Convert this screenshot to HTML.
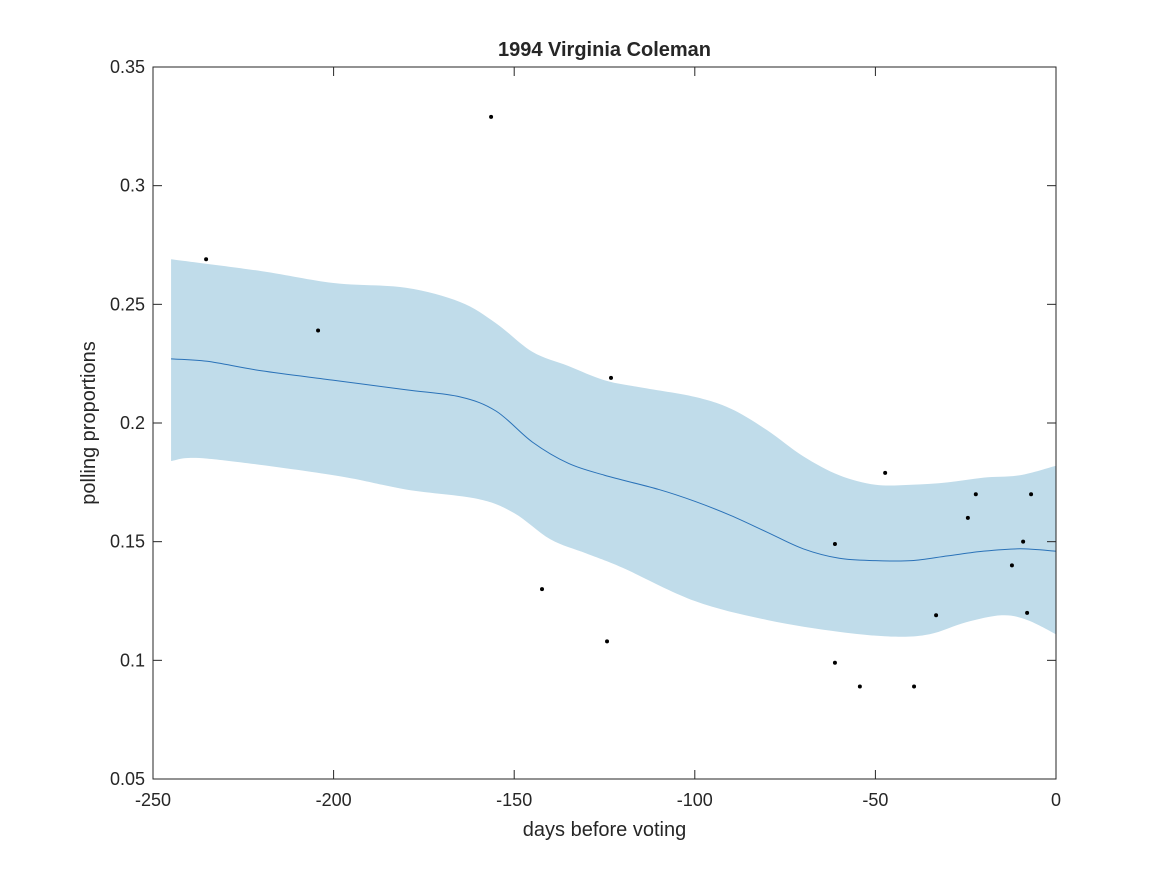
<!DOCTYPE html>
<html><head><meta charset="utf-8"><style>
body{margin:0;background:#fff;}
svg text{font-family:"Liberation Sans",Arial,sans-serif;fill:#262626;}
</style></head><body>
<svg id="chart" width="1167" height="875">
<rect width="1167" height="875" fill="#fff"/>
<g id="plot"></g>
</svg>
<script>
const xTicks=[-250,-200,-150,-100,-50,0];
const yTicks=[0.05,0.1,0.15,0.2,0.25,0.3,0.35];
const yTickLabels=["0.05","0.1","0.15","0.2","0.25","0.3","0.35"];
const meanX=[-245,-235,-220,-200,-180,-165,-155,-145,-135,-125,-110,-100,-90,-80,-70,-60,-50,-40,-30,-20,-10,0];
const meanY=[0.227,0.226,0.222,0.218,0.214,0.211,0.205,0.192,0.183,0.178,0.172,0.167,0.161,0.154,0.147,0.143,0.142,0.142,0.144,0.146,0.147,0.146];
const upperX=[-245,-220,-200,-180,-165,-155,-145,-135,-125,-115,-100,-90,-80,-70,-60,-50,-40,-30,-20,-10,0];
const upperY=[0.269,0.264,0.259,0.257,0.251,0.242,0.230,0.224,0.218,0.215,0.211,0.206,0.197,0.186,0.178,0.174,0.174,0.175,0.177,0.178,0.182];
const lowerX=[-245,-235,-200,-180,-160,-150,-140,-130,-120,-100,-80,-60,-45,-35,-25,-15,-8,0];
const lowerY=[0.184,0.185,0.178,0.172,0.168,0.162,0.151,0.145,0.139,0.125,0.117,0.112,0.110,0.111,0.116,0.119,0.117,0.111];
const ptsX=[-235.3,-204.3,-156.4,-142.3,-124.3,-123.2,-61.2,-61.2,-54.3,-47.3,-39.3,-33.2,-24.4,-22.2,-12.2,-9.1,-8.0,-6.9];
const ptsY=[0.269,0.239,0.329,0.130,0.108,0.219,0.149,0.099,0.089,0.179,0.089,0.119,0.160,0.170,0.140,0.150,0.120,0.170];

const L=153,R=1056,T=67,B=779;
const sx=v=>L+(v+250)/250*(R-L);
const sy=v=>B-(v-0.05)/0.3*(B-T);
const NS="http://www.w3.org/2000/svg";
const g=document.getElementById('plot');
function mk(t,a){const e=document.createElementNS(NS,t);for(const k in a)e.setAttribute(k,a[k]);g.appendChild(e);return e;}
function smooth(xs,ys){let d=`M${sx(xs[0])},${sy(ys[0])}`;const P=xs.map((x,i)=>[sx(x),sy(ys[i])]);
for(let i=0;i<P.length-1;i++){const p0=P[Math.max(i-1,0)],p1=P[i],p2=P[i+1],p3=P[Math.min(i+2,P.length-1)];
d+=` C${p1[0]+(p2[0]-p0[0])/6},${p1[1]+(p2[1]-p0[1])/6} ${p2[0]-(p3[0]-p1[0])/6},${p2[1]-(p3[1]-p1[1])/6} ${p2[0]},${p2[1]}`;}return d;}
function smoothRev(xs,ys){const rx=xs.slice().reverse(),ry=ys.slice().reverse();return smooth(rx,ry).replace(/^M/,'L');}

const band=mk('path',{d:smooth(upperX,upperY)+' '+smoothRev(lowerX,lowerY)+' Z',fill:'#c0dcea',stroke:'none'});


const line=mk('path',{d:smooth(meanX,meanY),fill:'none',stroke:'#2a72b8','stroke-width':1});


ptsX.forEach((x,i)=>{const c=mk('circle',{cx:sx(x),cy:sy(ptsY[i]),r:2,fill:'#000'});

});

const box=mk('rect',{x:L,y:T,width:R-L,height:B-T,fill:'none',stroke:'#262626','stroke-width':1});


xTicks.forEach(v=>{const x=sx(v);
mk('line',{x1:x,y1:B,x2:x,y2:B-9,stroke:'#262626'});mk('line',{x1:x,y1:T,x2:x,y2:T+9,stroke:'#262626'});
const t=mk('text',{x:x,y:B+27,'text-anchor':'middle','font-size':18});t.textContent=v;

});
yTicks.forEach((v,i)=>{const y=sy(v);
mk('line',{x1:L,y1:y,x2:L+9,y2:y,stroke:'#262626'});mk('line',{x1:R,y1:y,x2:R-9,y2:y,stroke:'#262626'});
const t=mk('text',{x:L-8,y:y+6,'text-anchor':'end','font-size':18});t.textContent=yTickLabels[i];

});
const xt=mk('text',{x:(L+R)/2,y:836,'text-anchor':'middle','font-size':20});xt.textContent='days before voting';


const yt=mk('text',{x:0,y:0,'text-anchor':'middle','font-size':20,transform:`translate(95,${(T+B)/2}) rotate(-90)`});yt.textContent='polling proportions';


const tt=mk('text',{x:(L+R)/2,y:56,'text-anchor':'middle','font-size':20,'font-weight':'bold'});tt.textContent='1994 Virginia Coleman';


</script>
</body></html>
